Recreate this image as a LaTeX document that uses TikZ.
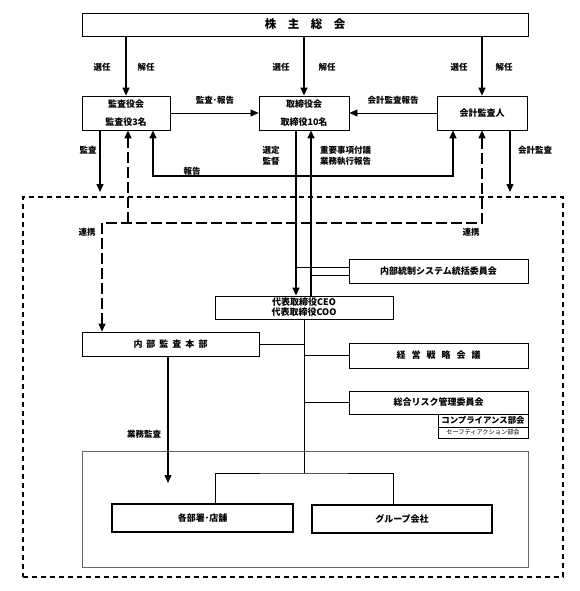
\documentclass[tikz,border=0pt]{standalone}
\usepackage{fontspec}
\setmainfont{Noto Sans CJK JP}
\usetikzlibrary{arrows.meta,positioning}

\begin{document}
\begin{tikzpicture}[x=1pt,y=-1pt,
  box/.style={draw,line width=0.8pt,inner sep=0pt,font=\fontsize{9}{11}\selectfont\bfseries},
  lbl/.style={font=\fontsize{8.5}{11}\selectfont\bfseries,inner sep=0pt},
  arr/.style={-{Triangle[length=8pt,width=7pt]},line width=1.4pt},
  arrboth/.style={{Triangle[length=8pt,width=7pt]}-{Triangle[length=8pt,width=7pt]},line width=1.4pt},
  thinarr/.style={-{Triangle[length=8pt,width=7pt]},line width=0.6pt},
  link/.style={line width=0.9pt},
  renkei/.style={dash pattern=on 11pt off 4pt,line width=1.1pt}]
  \useasboundingbox (0,0) rectangle (580,591);

  % frames
  \node[draw,dash pattern=on 5pt off 4pt,line width=1.1pt,minimum width=540pt,minimum height=380pt] (field) at (293,387) {};
  \node[draw=black!60,line width=0.6pt,minimum width=446pt,minimum height=116pt] (genba) at (305,509) {};

  % boxes
  \node[box,minimum width=446pt,minimum height=23pt,font=\fontsize{11.5}{12}\selectfont\bfseries] (soukai) at (305,24.5) {株\hspace{1em}主\hspace{1em}総\hspace{1em}会};
  \node[box,minimum width=88pt,minimum height=34pt,align=center] (kansa) at (126,113) {監査役会\\[7pt]監査役3名};
  \node[box,minimum width=90pt,minimum height=34pt,align=center] (torishimari) at (304,113) {取締役会\\[7pt]取締役10名};
  \node[box,minimum width=90pt,minimum height=34pt] (kaikei) at (482,113) {会計監査人};
  \node[box,minimum width=179pt,minimum height=24pt] (tousei) at (438.5,271) {内部統制システム統括委員会};
  \node[box,minimum width=178pt,minimum height=23pt,align=center,font=\fontsize{9}{10}\selectfont\bfseries] (ceo) at (304,307.5) {代表取締役CEO\\代表取締役COO};
  \node[box,minimum width=177pt,minimum height=24pt] (naibu) at (170.5,344) {内\hspace{4pt}部\hspace{4pt}監\hspace{4pt}査\hspace{4pt}本\hspace{4pt}部};
  \node[box,minimum width=179pt,minimum height=25pt] (keiei) at (438.5,355.5) {経\hspace{6pt}営\hspace{6pt}戦\hspace{6pt}略\hspace{6pt}会\hspace{6pt}議};
  \node[box,minimum width=179pt,minimum height=23pt] (risk) at (438.5,402.5) {総合リスク管理委員会};
  \node[box,minimum width=90pt,minimum height=13pt,font=\fontsize{8.4}{9}\selectfont\bfseries] (comp) at (483,420.5) {コンプライアンス部会};
  \node[box,minimum width=90pt,minimum height=11pt,font=\fontsize{6.2}{7}\selectfont] (safety) at (483,432.5) {セーフティアクション部会};
  \node[box,line width=1.6pt,minimum width=181pt,minimum height=28pt] (bumon) at (202.5,518) {各部署･店舗};
  \node[box,line width=1.6pt,minimum width=180pt,minimum height=28pt] (group) at (402,519) {グループ会社};

  % 選任・解任
  \draw[arr] (soukai.south -| kansa.north) -- (kansa.north);
  \draw[arr] (soukai.south -| torishimari.north) -- (torishimari.north);
  \draw[arr] (soukai.south -| kaikei.north) -- (kaikei.north);
  \node[lbl] (sen1) at (102,67) {選任};
  \node[lbl] (kai1) at (146,67) {解任};
  \node[lbl] (sen2) at (281,67) {選任};
  \node[lbl] (kai2) at (327,67) {解任};
  \node[lbl] (sen3) at (459,67) {選任};
  \node[lbl] (kai3) at (504,67) {解任};

  % 報告 between boards
  \draw[thinarr] (kansa) -- (torishimari);
  \node[lbl] (kansahoukoku) at (215,100) {監査･報告};
  \draw[thinarr] (kaikei) -- (torishimari);
  \node[lbl] (kaikeihoukoku) at (393,100) {会計監査報告};

  % 監査 / 会計監査
  \coordinate (kansaend) at (100,192);
  \draw[arr] (kansaend |- kansa.south) -- (kansaend);
  \node[lbl] (kansalbl) at (88,150) {監査};
  \coordinate (kaikeiend) at (510,192);
  \draw[arr] (kaikeiend |- kaikei.south) -- (kaikeiend);
  \node[lbl] (kaikeilbl) at (535,150) {会計監査};

  % 報告
  \coordinate (houkoku) at (300,176);
  \draw[arrboth] ([xshift=27pt]kansa.south) |- (houkoku) -| ([xshift=-29pt]kaikei.south);
  \node[lbl] (houkokulbl) at (192,171) {報告};

  % 選定・監督 / 付議
  \coordinate (sel) at ([xshift=-8pt]torishimari.south);
  \coordinate (fug) at ([xshift=7pt]torishimari.south);
  \draw[arr] (sel) -- (sel |- ceo.north);
  \draw[arr] (fug |- ceo.north) -- (fug);
  \node[lbl,align=center] (sentei) at (271,155.5) {選定\\監督};
  \node[lbl,align=left,anchor=west] (fugi) at (320,155.5) {重要事項付議\\業務執行報告};
  \coordinate (t1) at ([yshift=4pt]tousei.west);
  \coordinate (t2) at ([yshift=-4pt]tousei.west);
  \draw[link] (t1) -- (t1 -| sel);
  \draw[link] (t2) -- (t2 -| fug);

  % trunk
  \coordinate (branch) at (304,473);
  \draw[link] (ceo.south) -- (branch);
  \draw[link] ([xshift=12.5pt]bumon.north) |- (branch) -| ([xshift=-9pt]group.north);
  \draw[link] (naibu.east) -- (naibu.east -| ceo.south);
  \draw[link] (keiei.west) -- (keiei.west -| ceo.south);
  \draw[link] (risk.west) -- (risk.west -| ceo.south);

  % 業務監査
  \coordinate (gyoumuend) at (168,483);
  \draw[arr] (gyoumuend |- naibu.south) -- (gyoumuend);
  \node[lbl] (gyoumulbl) at (144,434) {業務監査};

  % 連携
  \coordinate (rkpt) at (102,223);
  \coordinate (rkup) at ([xshift=2pt]kansa.south);
  \draw[renkei,arrboth,line width=1.1pt] (kaikei.south) |- (rkpt) -- (rkpt |- naibu.north);
  \draw[renkei,arr,line width=1.1pt] (rkup |- rkpt) -- (rkup);
  \node[lbl] (renkei1) at (87,232) {連携};
  \node[lbl] (renkei2) at (471,232) {連携};
\end{tikzpicture}
\end{document}
